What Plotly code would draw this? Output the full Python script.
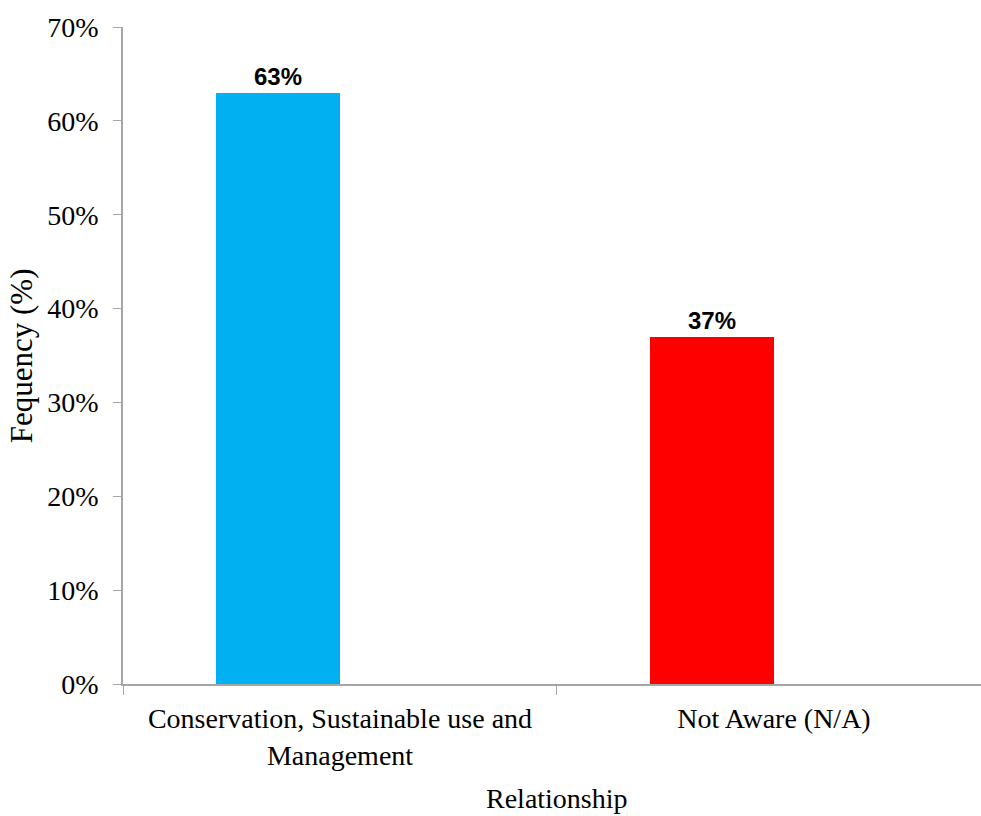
import plotly.graph_objects as go

# Survey responses: awareness of the relationship
categories = ["Conservation, Sustainable use and<br>Management", "Not Aware (N/A)"]
shares = [0.63, 0.37]
bar_colors = ["#00B0F0", "#FF0000"]
y_ticks = [0, 0.1, 0.2, 0.3, 0.4, 0.5, 0.6, 0.7]
y_tick_text = ["0%", "10%", "20%", "30%", "40%", "50%", "60%", "70%"]

serif = "Liberation Serif, Times New Roman, serif"
axis_grey = "#A6A6A6"

fig = go.Figure(
    go.Bar(
        x=categories,
        y=shares,
        marker=dict(color=bar_colors, line=dict(width=0)),
        width=0.2857,
        offset=-0.2857,
        text=[f"{v:.0%}" for v in shares],
        textposition="outside",
        textfont=dict(family="Liberation Sans, Arial, sans-serif", size=24, color="black", weight="bold"),
        cliponaxis=False,
        showlegend=False,
    )
)

fig.update_layout(
    width=981,
    height=816,
    margin=dict(l=123, r=0, t=27, b=132),
    paper_bgcolor="white",
    plot_bgcolor="white",
    bargap=0,
    xaxis=dict(
        type="category",
        range=[-0.5, 1.477],
        tickson="boundaries",
        ticks="outside",
        ticklen=9,
        tickcolor=axis_grey,
        showline=True,
        linecolor=axis_grey,
        linewidth=1.5,
        showgrid=False,
        ticklabelstandoff=9,
        tickfont=dict(family=serif, size=28, color="black"),
    ),
    yaxis=dict(
        range=[0, 0.7],
        tickvals=y_ticks,
        ticktext=y_tick_text,
        ticks="outside",
        ticklen=8,
        tickcolor=axis_grey,
        showline=True,
        linecolor=axis_grey,
        linewidth=1.5,
        showgrid=False,
        zeroline=False,
        ticklabelstandoff=9,
        tickfont=dict(family=serif, size=28, color="black"),
    ),
    annotations=[
        dict(
            text="Relationship",
            xref="paper", yref="paper",
            x=0.506, y=-0.175,
            xanchor="center", yanchor="middle",
            showarrow=False,
            font=dict(family=serif, size=28, color="black"),
        ),
        dict(
            text="Fequency (%)",
            xref="paper", yref="paper",
            x=-0.118, y=0.5,
            xanchor="center", yanchor="middle",
            textangle=-90,
            showarrow=False,
            font=dict(family=serif, size=31, color="black"),
        ),
    ],
)

fig.write_html("out.html")
